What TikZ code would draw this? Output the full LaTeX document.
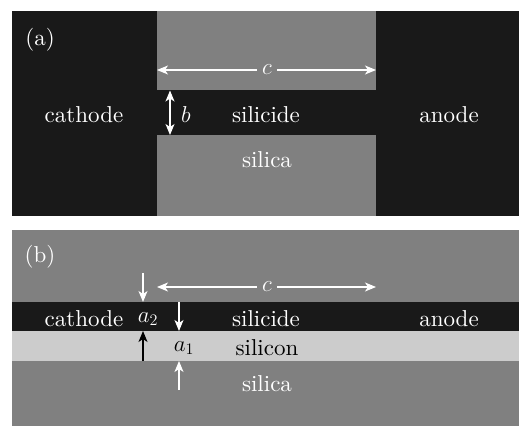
\documentclass[tikz,border=0pt]{standalone}
\usepackage{fontspec}
\usepackage{fix-cm}
\setmainfont{lmroman10-regular.otf}[ItalicFont=lmroman10-italic.otf]
\usetikzlibrary{arrows.meta}
\definecolor{darkband}{gray}{0.1}
\definecolor{midgray}{gray}{0.5}
\definecolor{lightband}{gray}{0.8}
\tikzset{
  lbl/.style={text=white, font=\fontsize{23}{28}\selectfont, inner sep=0pt, anchor=center},
  dlbl/.style={lbl, text=black},
  dim/.style={white, line width=1.2pt, -{Stealth[length=11pt,width=9pt,inset=3pt]}},
  dimb/.style={dim, black}
}
\begin{document}
\begin{tikzpicture}[x=1pt,y=-1pt]
\useasboundingbox (0,0) rectangle (519,427);
\fill[white] (0,0) rectangle (519,427);
% panel (a)
\fill[darkband] (12,11) rectangle (519,216);
\fill[midgray] (157,11) rectangle (376,90.5);
\fill[midgray] (157,135) rectangle (376,216);
\node[lbl] (la) at (40,40) {(a)};
\node[lbl] (cathA) at (84,115) {cathode};
\node[lbl] (silicideA) at (266,115) {silicide};
\node[lbl] (anodeA) at (449,115) {anode};
\node[lbl] (silicaA) at (267,160) {silica};
\node[lbl] (bA) at (186,115) {$b$};
\node[lbl, fill=midgray, inner xsep=5pt, inner ysep=2pt] (cA) at (267,70) {$c$};
\coordinate (cAl) at (157,70);
\coordinate (cAr) at (376,70);
\draw[dim] (cA.west) -- (cAl);
\draw[dim] (cA.east) -- (cAr);
\coordinate (bTop) at (170,90.5);
\coordinate (bBot) at (170,135);
\coordinate (bMid) at (170,112);
\draw[dim] (bMid) -- (bTop);
\draw[dim] (bMid) -- (bBot);
% panel (b)
\fill[midgray] (12,230) rectangle (519,426);
\fill[darkband] (12,302) rectangle (519,331);
\fill[lightband] (12,331) rectangle (519,361);
\node[lbl] (lb) at (40,257) {(b)};
\node[lbl, fill=midgray, inner xsep=5pt, inner ysep=2pt] (cB) at (267,287) {$c$};
\coordinate (cBl) at (157,287);
\coordinate (cBr) at (376,287);
\draw[dim] (cB.west) -- (cBl);
\draw[dim] (cB.east) -- (cBr);
\node[lbl] (cathB) at (84,319) {cathode};
\node[lbl] (a2) at (148,319) {$a_2$};
\node[lbl] (silicideB) at (266,319) {silicide};
\node[lbl] (anodeB) at (449,319) {anode};
\node[dlbl] (a1) at (184,348) {$a_1$};
\node[dlbl] (silicon) at (267,348) {silicon};
\node[lbl] (silicaB) at (267,384) {silica};
\coordinate (p1s) at (143,273);
\coordinate (p1e) at (143,302);
\draw[dim] (p1s) -- (p1e);
\coordinate (p2s) at (179,302);
\coordinate (p2e) at (179,331);
\draw[dim] (p2s) -- (p2e);
\coordinate (p3s) at (143,361);
\coordinate (p3e) at (143,331);
\draw[dimb] (p3s) -- (p3e);
\coordinate (p4s) at (179,390);
\coordinate (p4e) at (179,361);
\draw[dim] (p4s) -- (p4e);
\end{tikzpicture}
\end{document}
